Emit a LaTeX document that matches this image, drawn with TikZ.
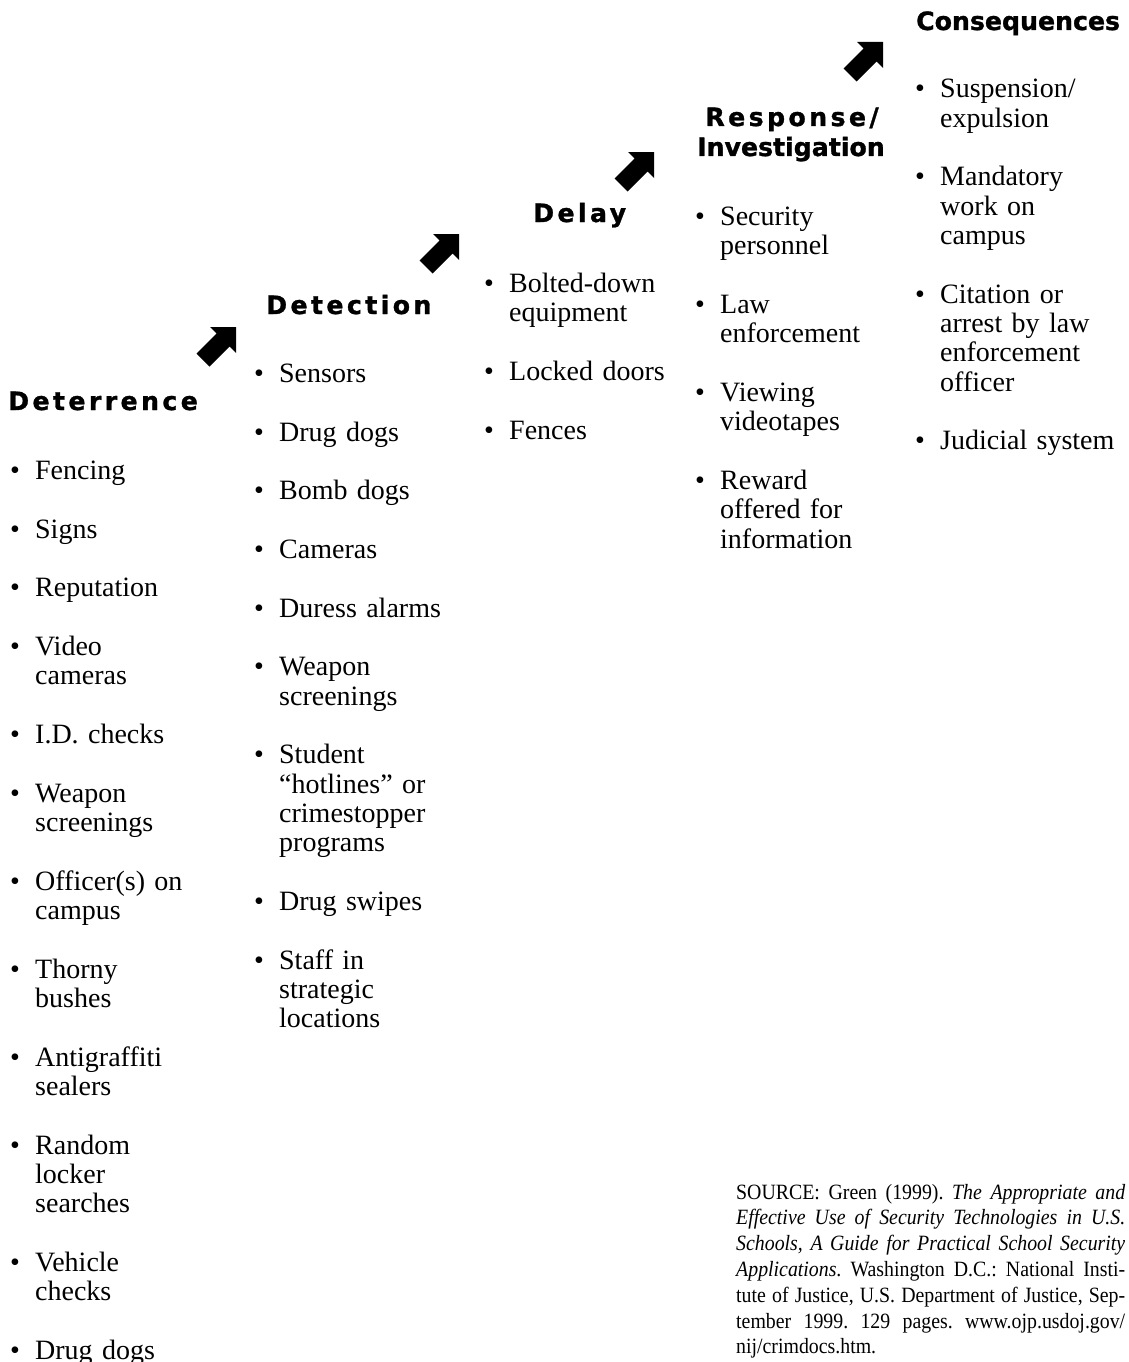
\documentclass[tikz,border=0pt]{standalone}
\usepackage{fontspec}
\setmainfont{Liberation Serif}
\newfontfamily\srcfont{Liberation Serif}[FakeStretch=0.91]
\newfontfamily\hfont{DejaVu Sans}[FakeBold=1.2]
\newfontfamily\hfontsp{DejaVu Sans}[LetterSpace=13.5,FakeBold=1.2]
\frenchspacing
\newcommand\nl{\hfil\break}
\newcommand\itmfirst[1]{\par\hangindent=25pt\hangafter=1\noindent\strut\makebox[25pt][l]{\textbullet}#1\par}
\newcommand\itm[1]{\vspace{29.33pt}\itmfirst{#1}}
\tikzset{
  listcol/.style={anchor=north west, inner sep=0pt, text width=#1,
    font=\fontsize{28}{29.33}\selectfont,
    execute at begin node={\setlength\parindent{0pt}\setlength\parskip{0pt}\hyphenpenalty=10000}},
  headsp/.style={inner sep=0pt, font=\hfontsp\bfseries\fontsize{25.2}{29}\selectfont},
  headpl/.style={inner sep=0pt, font=\hfont\bfseries\fontsize{25.2}{29}\selectfont},
  bigarrow/.style={fill=black},
  srcbox/.style={anchor=north west, inner sep=0pt, text width=389pt, align=justify,
    font=\srcfont\fontsize{21.8}{25.8}\selectfont,
    execute at begin node={\setlength\parindent{0pt}\hyphenpenalty=10000\emergencystretch=20pt}}
}
\begin{document}
\begin{tikzpicture}[x=1pt,y=-1pt]
\useasboundingbox[fill=white] (0,0) rectangle (1128,1362);

% headings
\node[headsp, anchor=base west] (deterrence) at (8,410) {Deterrence};
\node[headsp, anchor=base west] (detection) at (266,314) {Detection};
\node[headsp, anchor=base west] (delay) at (533,222) {Delay};
\node[headsp, anchor=base] (response) at (792,126) {Response/};
\node[headpl, anchor=base] (investigation) at (791,156) {Investigation};
\node[headpl, anchor=base west] (consequences) at (916,30) {Consequences};

% arrows
\foreach \p in {(210,327),(433,234),(628,152),(857,42)}{
  \fill[bigarrow, shift={\p}] (0,0) -- (26,0) -- (26,26) -- (19.5,19.5) -- (-0.5,39.5) -- (-13.5,26.5) -- (6.5,6.5) -- cycle;
}

% lists
\node[listcol=220pt] (list1) at (10,449.97) {%
\itmfirst{Fencing}
\itm{Signs}
\itm{Reputation}
\itm{Video\nl cameras}
\itm{I.D. checks}
\itm{Weapon\nl screenings}
\itm{Officer(s) on\nl campus}
\itm{Thorny\nl bushes}
\itm{Antigraffiti\nl sealers}
\itm{Random\nl locker\nl searches}
\itm{Vehicle\nl checks}
\itm{Drug dogs}};

\node[listcol=205pt] (list2) at (254,352.97) {%
\itmfirst{Sensors}
\itm{Drug dogs}
\itm{Bomb dogs}
\itm{Cameras}
\itm{Duress alarms}
\itm{Weapon\nl screenings}
\itm{Student\nl “hotlines” or\nl crimestopper\nl programs}
\itm{Drug swipes}
\itm{Staff in\nl strategic\nl locations}};

\node[listcol=195pt] (list3) at (484,262.97) {%
\itmfirst{Bolted-down\nl equipment}
\itm{Locked doors}
\itm{Fences}};

\node[listcol=205pt] (list4) at (695,195.97) {%
\itmfirst{Security\nl personnel}
\itm{Law\nl enforcement}
\itm{Viewing\nl videotapes}
\itm{Reward\nl offered for\nl information}};

\node[listcol=205pt] (list5) at (915,68.47) {%
\itmfirst{Suspension/\nl expulsion}
\itm{Mandatory\nl work on\nl campus}
\itm{Citation or\nl arrest by law\nl enforcement\nl officer}
\itm{Judicial system}};

% source
\node[srcbox] (source) at (736,1180.9) {\strut SOURCE: Green (1999). \textit{The Appropriate and\linebreak Effective Use of Security Technologies in U.S.\linebreak Schools, A Guide for Practical School Security\linebreak Applications}. Washington D.C.: National Insti-\linebreak tute of Justice, U.S. Department of Justice, Sep-\linebreak tember 1999. 129 pages. www.ojp.usdoj.gov/\linebreak nij/crimdocs.htm.\par};
\end{tikzpicture}
\end{document}
